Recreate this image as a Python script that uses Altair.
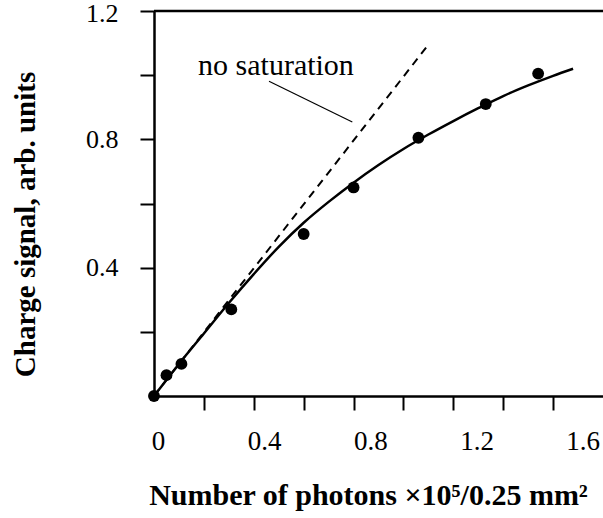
import altair as alt
import pandas as pd

# Measured charge signal vs photon fluence
photons = [0.0, 0.05, 0.11, 0.31, 0.60, 0.80, 1.06, 1.33, 1.54]
signal = [0.0, 0.065, 0.10, 0.27, 0.505, 0.65, 0.805, 0.91, 1.005]

# Fitted saturation curve
fit_x = [0.0, 0.1, 0.2, 0.3, 0.4, 0.5, 0.6, 0.7, 0.8, 0.9, 1.0, 1.1, 1.2, 1.3, 1.4, 1.5, 1.6, 1.68]
fit_y = [0.0, 0.10, 0.195, 0.29, 0.38, 0.465, 0.54, 0.605, 0.665, 0.72, 0.77, 0.815, 0.857, 0.897, 0.935, 0.968, 0.998, 1.02]

# Linear response without saturation
lin_x = [0.0, 1.105]
lin_y = [0.0, 1.10]

# Annotation
note_text = ["no saturation"]
note_x = [0.489]
note_y = [1.029]
leader_x = [0.461, 0.795]
leader_y = [0.981, 0.854]

# Frame line along the top of the plot
frame_x = [0.0, 1.8]
frame_y = [1.2, 1.2]

x_ticks = [0.0, 0.2, 0.4, 0.6, 0.8, 1.0, 1.2, 1.4, 1.6]
y_ticks = [0.2, 0.4, 0.6, 0.8, 1.0, 1.2]

FONT = "Liberation Serif"

pts = pd.DataFrame({"x": photons, "y": signal})
fit = pd.DataFrame({"x": fit_x, "y": fit_y})
lin = pd.DataFrame({"x": lin_x, "y": lin_y})
note = pd.DataFrame({"x": note_x, "y": note_y, "t": note_text})
leader = pd.DataFrame({"x": leader_x, "y": leader_y})
frame = pd.DataFrame({"x": frame_x, "y": frame_y})

xscale = alt.Scale(domain=[0, 1.8], nice=False, zero=True)
yscale = alt.Scale(domain=[0, 1.2], nice=False)

x_axis = alt.Axis(
    values=x_ticks,
    labelExpr="datum.value==0 ? '0' : ((datum.value==0.4||datum.value==0.8||datum.value==1.2||datum.value==1.6) ? datum.label : '')",
    title="Number of photons \u00d710\u2075/0.25 mm\u00b2",
    titleFont=FONT, titleFontSize=30, titleFontWeight="bold", titleColor="black",
    titleX=214, titleY=84, titleBaseline="top",
    labelFont=FONT, labelFontSize=27, labelColor="black", labelPadding=18,
    labelFlush=False, labelOverlap=False,
    labelOffset={"expr": "4 + 16*datum.value"},
    tickOpacity={"condition": {"test": "datum.value==0", "value": 0}, "value": 1},
    tickSize=14, tickWidth=2, tickColor="black",
    domainColor="black", domainWidth=2.5, grid=False,
)

y_axis = alt.Axis(
    values=y_ticks,
    labelExpr="(datum.value==0.4||datum.value==0.8||datum.value==1.2) ? datum.label : ''",
    title="Charge signal, arb. units",
    titleFont=FONT, titleFontSize=29, titleFontWeight="bold", titleColor="black",
    titleX=-114, titleY=213, titleBaseline="bottom", titleAngle=-90,
    labelFont=FONT, labelFontSize=26, labelColor="black", labelPadding=22,
    labelFlush=False, labelOverlap=False,
    labelOffset={"condition": {"test": "datum.value==1.2", "value": 2}, "value": 0},
    tickSize=14, tickWidth=2, tickColor="black",
    domainColor="black", domainWidth=2.5, grid=False,
)

curve = alt.Chart(fit).mark_line(color="black", strokeWidth=2.5, interpolate="monotone").encode(
    x=alt.X("x:Q", scale=xscale, axis=x_axis),
    y=alt.Y("y:Q", scale=yscale, axis=y_axis),
)

top_line = alt.Chart(frame).mark_line(color="black", strokeWidth=2.5).encode(
    x=alt.X("x:Q", scale=xscale),
    y=alt.Y("y:Q", scale=yscale),
)

dashed = alt.Chart(lin).mark_line(color="black", strokeWidth=2, strokeDash=[8, 6]).encode(
    x=alt.X("x:Q", scale=xscale),
    y=alt.Y("y:Q", scale=yscale),
)

points = alt.Chart(pts).mark_circle(color="black", opacity=1, size=140).encode(
    x=alt.X("x:Q", scale=xscale),
    y=alt.Y("y:Q", scale=yscale),
)

leader_line = alt.Chart(leader).mark_line(color="black", strokeWidth=1.2).encode(
    x=alt.X("x:Q", scale=xscale),
    y=alt.Y("y:Q", scale=yscale),
)

label = alt.Chart(note).mark_text(font=FONT, fontSize=30, color="black",
                                  align="center", baseline="middle").encode(
    x=alt.X("x:Q", scale=xscale),
    y=alt.Y("y:Q", scale=yscale),
    text="t:N",
)

chart = alt.layer(curve, top_line, dashed, leader_line, points, label).properties(
    width=449, height=385,
    padding={"left": 154, "top": 11, "right": 0, "bottom": 122},
    autosize="none",
    background="white",
).configure_view(stroke=None)

chart.save("out.html", embed_options={"renderer": "svg", "actions": False})
